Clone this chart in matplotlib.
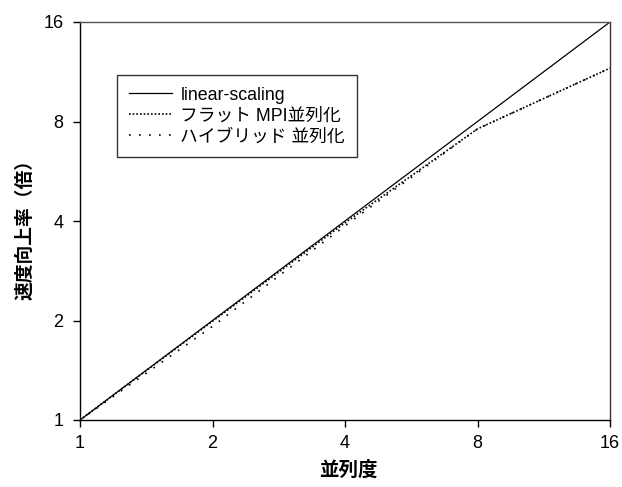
import matplotlib
matplotlib.use("Agg")
import matplotlib.pyplot as plt
from matplotlib.ticker import FixedLocator, FixedFormatter, NullLocator

plt.rcParams['font.family'] = ['Liberation Sans', 'Noto Sans CJK JP', 'DejaVu Sans']

procs = [1, 2, 4, 8, 16]
linear = [1, 2, 4, 8, 16]
flat_mpi = [1, 1.99, 3.95, 7.6, 11.6]
hybrid = [1, 1.92, 3.87, 7.6, 11.6]
tick_vals = [1, 2, 4, 8, 16]
tick_labels = ['1', '2', '4', '8', '16']

fig = plt.figure(figsize=(6.22, 4.87), dpi=100)
ax = fig.add_axes([80/622, 1-420/487, 530/622, 398/487])

ax.plot(procs, linear, color='black', lw=0.9, label='linear-scaling')
ax.plot(procs, flat_mpi, color='black', lw=1.2, linestyle=(0, (1, 1.2)), label='フラット MPI並列化')
ax.plot(procs, hybrid, color='black', lw=1.2, linestyle=(0, (1, 5)), label='ハイブリッド 並列化')

ax.set_xscale('log', base=2)
ax.set_yscale('log', base=2)
ax.set_xlim(1, 16)
ax.set_ylim(1, 16)
for a in (ax.xaxis, ax.yaxis):
    a.set_major_locator(FixedLocator(tick_vals))
    a.set_major_formatter(FixedFormatter(tick_labels))
    a.set_minor_locator(NullLocator())
ax.tick_params(direction='out', length=5, width=1, labelsize=13)
ax.tick_params(axis='y', pad=7)
ax.tick_params(axis='x', pad=6)
for s in ax.spines.values():
    s.set_linewidth(1)
ax.spines['top'].set_color('#555555')
ax.spines['right'].set_color('#333333')

fig.text(348/622, 1-470/487, '並列度', fontsize=14, fontweight='bold',
         family=['Noto Sans CJK JP'], ha='center', va='center')
fig.text(25/622, 1-225/487, '速度向上率（倍）', fontsize=13.5, fontweight='bold',
         family=['Noto Sans CJK JP'], ha='center', va='center', rotation=90)

leg = ax.legend(loc='upper left', bbox_to_anchor=(37/530, 1-53/398), frameon=True, fancybox=False,
                edgecolor='black', handlelength=2.45, borderpad=0.65, labelspacing=0.22,
                handletextpad=0.47, borderaxespad=0,
                prop={'family': ['Liberation Sans', 'Noto Sans CJK JP'], 'size': 12.8})
leg.get_frame().set_linewidth(1)

fig.savefig('out.png', dpi=100)
